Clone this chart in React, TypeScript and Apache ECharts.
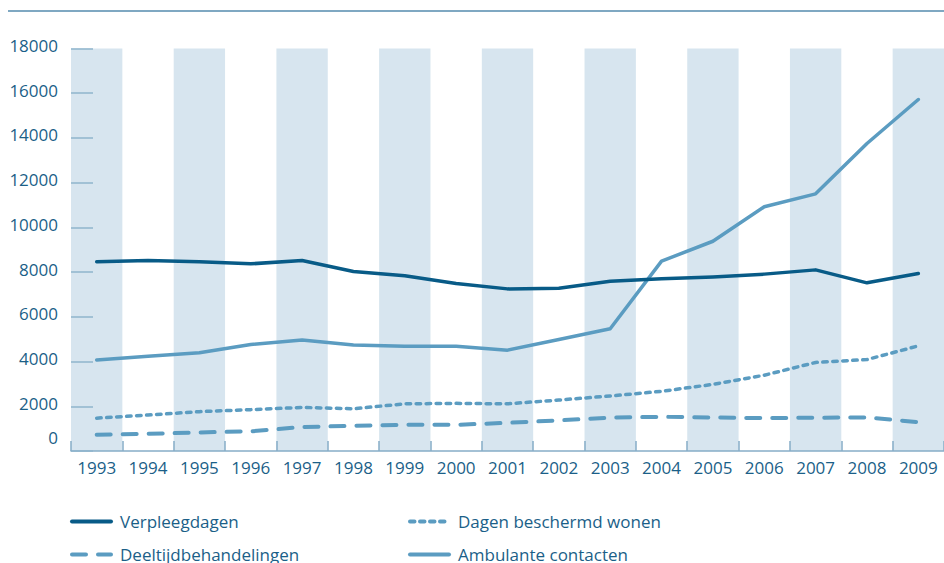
import React, { useEffect, useRef } from "react";
import * as echarts from "echarts";

const years = ["1993","1994","1995","1996","1997","1998","1999","2000","2001","2002","2003","2004","2005","2006","2007","2008","2009"];
const verpleegdagen = [8460, 8520, 8460, 8370, 8520, 8030, 7840, 7490, 7250, 7280, 7590, 7700, 7780, 7910, 8100, 7520, 7940];
const beschermdWonen = [1470, 1610, 1760, 1850, 1950, 1890, 2110, 2130, 2110, 2280, 2460, 2670, 2980, 3390, 3960, 4090, 4700];
const deeltijd = [730, 770, 830, 880, 1070, 1130, 1170, 1170, 1260, 1370, 1490, 1530, 1500, 1470, 1490, 1500, 1290];
const ambulante = [4070, 4240, 4390, 4760, 4960, 4740, 4680, 4680, 4510, 4990, 5470, 8490, 9380, 10920, 11500, 13750, 15720];
const yTicks = { min: 0, max: 18000, interval: 2000 };

const DARK = "#085b87";
const LIGHT = "#5b9cc1";
const TEXT = "#1b5f88";
const FONT = "'Open Sans', 'Noto Sans', sans-serif";

export default function App() {
  const ref = useRef<HTMLDivElement>(null);
  useEffect(() => {
    if (!ref.current) return;
    const chart = echarts.init(ref.current, undefined, { renderer: "svg" });
    const legendBase = (name: string, left: number, top: number) => ({
      data: [name],
      left,
      top,
      padding: 0,
      itemWidth: 39,
      itemHeight: 12,
      itemStyle: { color: "rgba(0,0,0,0)", borderWidth: 0, opacity: 0 },
      lineStyle: { width: 4 },
      textStyle: { color: TEXT, fontSize: 17, fontFamily: FONT, padding: [0, 0, 0, 4] },
      selectedMode: false,
    });
    chart.setOption({
      animation: false,
      backgroundColor: "#ffffff",
      grid: { left: 71, top: 48.5, width: 879, height: 402.5, containLabel: false },
      graphic: [
        { type: "line", shape: { x1: 8, y1: 11, x2: 944, y2: 11 }, style: { stroke: "#7fa8c2", lineWidth: 2 } },
      ],
      legend: [
        legendBase("Verpleegdagen", 70, 513),
        legendBase("Dagen beschermd wonen", 408, 513),
        legendBase("Deeltijdbehandelingen", 70, 546),
        legendBase("Ambulante contacten", 408, 546),
      ],
      xAxis: {
        type: "category",
        data: years,
        boundaryGap: true,
        axisLine: { show: true, lineStyle: { color: "#86adc7", width: 1.5 } },
        axisTick: { show: true, inside: true, length: 10, interval: 0, lineStyle: { color: "#86adc7", width: 1.5 } },
        axisLabel: { color: TEXT, fontSize: 17, fontFamily: FONT, margin: 8, interval: 0 },
        splitLine: { show: false },
        splitArea: { show: true, interval: 0, areaStyle: { color: ["#d7e5ef", "rgba(255,255,255,0)"] } },
      },
      yAxis: {
        type: "value",
        min: yTicks.min,
        max: yTicks.max,
        interval: yTicks.interval,
        axisLine: { show: false },
        axisTick: { show: true, inside: true, length: 22, lineStyle: { color: "#8fb4cc", width: 1.5 } },
        splitLine: { show: false },
        axisLabel: {
          color: TEXT,
          fontSize: 17,
          fontFamily: FONT,
          margin: 13,
          formatter: (v: number) => (v === 0 ? "{z|0}" : "{n|" + v + "}"),
          rich: {
            n: { color: TEXT, fontSize: 17, fontFamily: FONT, padding: [0, 0, 6, 0] },
            z: { color: TEXT, fontSize: 17, fontFamily: FONT, padding: [0, 0, 28, 0] },
          },
        },
      },
      series: [
        {
          name: "Verpleegdagen",
          type: "line",
          data: verpleegdagen,
          symbol: "none",
          lineStyle: { color: DARK, width: 3.5, cap: "round", join: "round" },
          itemStyle: { color: DARK },
          z: 5,
        },
        {
          name: "Dagen beschermd wonen",
          type: "line",
          data: beschermdWonen,
          symbol: "none",
          lineStyle: { color: LIGHT, width: 3.5, type: [4.5, 5.5], cap: "round", join: "round" },
          itemStyle: { color: LIGHT },
        },
        {
          name: "Deeltijdbehandelingen",
          type: "line",
          data: deeltijd,
          symbol: "none",
          lineStyle: { color: LIGHT, width: 4, type: [14, 12], cap: "round", join: "round" },
          itemStyle: { color: LIGHT },
        },
        {
          name: "Ambulante contacten",
          type: "line",
          data: ambulante,
          symbol: "none",
          lineStyle: { color: LIGHT, width: 3.5, cap: "round", join: "round" },
          itemStyle: { color: LIGHT },
        },
      ],
    });
    return () => chart.dispose();
  }, []);
  return (
    <div
      ref={ref}
      style={{ position: "absolute", left: 0, top: 0, width: 944, height: 563, background: "#fff" }}
    />
  );
}
